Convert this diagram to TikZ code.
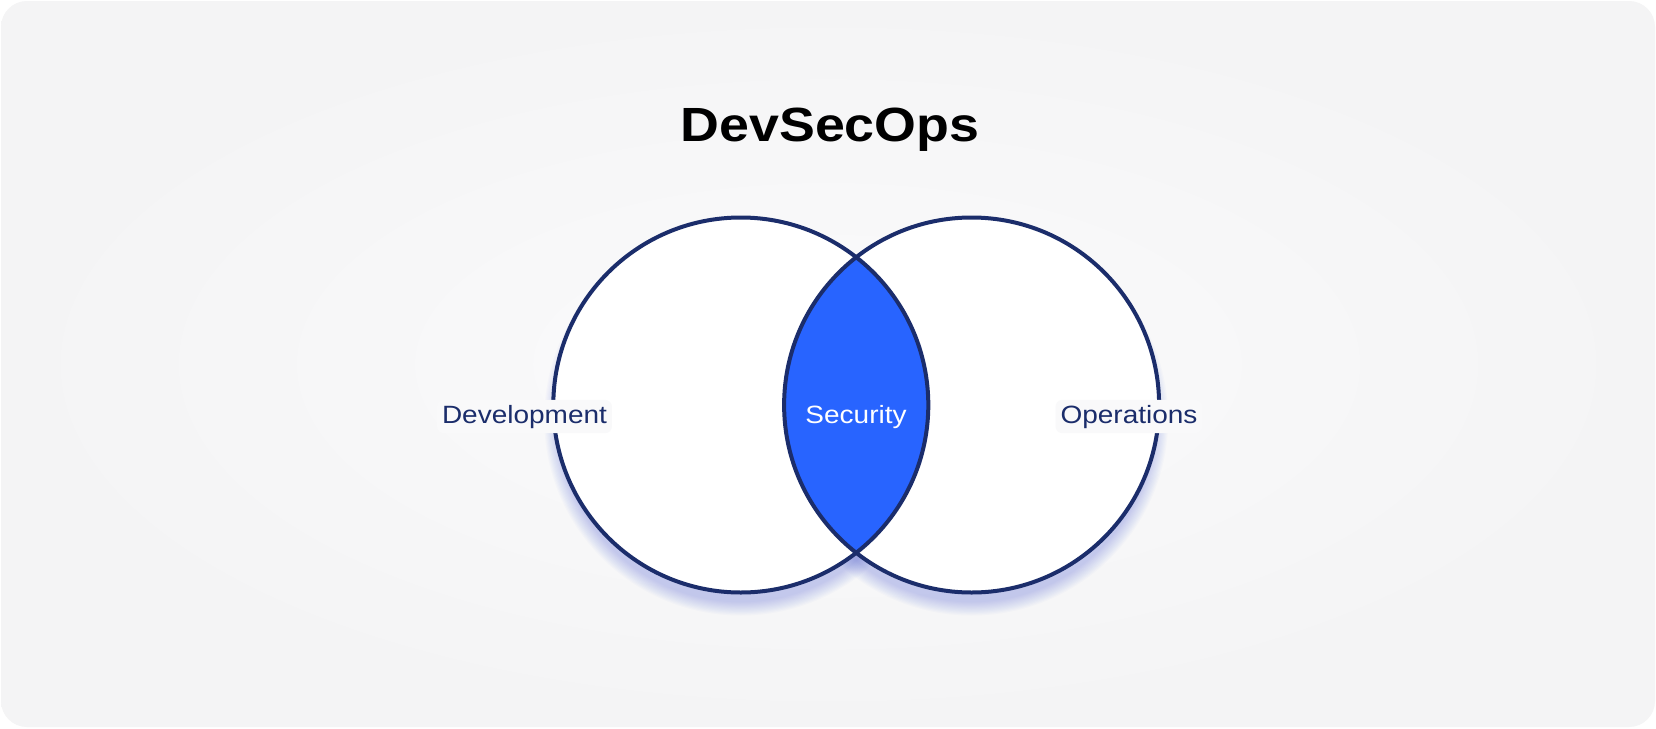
\documentclass[tikz,border=0pt]{standalone}
\usepackage{fontspec}
\setmainfont{Liberation Sans}
\newfontfamily\labelfont[FakeStretch=1.12]{Liberation Sans}
\newfontfamily\titlefont[FakeStretch=1.12]{Liberation Sans}
\definecolor{navy}{HTML}{1B2D6B}
\definecolor{lensblue}{HTML}{2864FF}
\definecolor{bgouter}{HTML}{F4F4F5}
\definecolor{bginner}{HTML}{FBFBFC}
\definecolor{glowblue}{HTML}{3A4ED0}
\definecolor{lblbg}{HTML}{F9F9FA}
\tikzset{
  ring/.style={circle, minimum size=375pt, inner sep=0pt, outer sep=0pt},
  ringline/.style={draw=navy, line width=4pt},
  lbl/.style={font=\labelfont\fontsize{25}{30}\selectfont, text=navy, fill=lblbg, rounded corners=7pt, inner sep=5pt, anchor=base},
  seclbl/.style={font=\labelfont\fontsize{25}{30}\selectfont, text=white, anchor=base},
  titlestyle/.style={font=\titlefont\bfseries\fontsize{48}{58}\selectfont, text=black, anchor=base}
}
\begin{document}
\begin{tikzpicture}[x=1pt,y=-1pt]
\useasboundingbox (0,0) rectangle (1656,728);
\fill[white] (0,0) rectangle (1656,728);
\shade[rounded corners=26pt, inner color=bginner, outer color=bgouter] (1,1) rectangle (1655,727);

% glow below circles
\foreach \i in {0,...,11} {
  \fill[glowblue, opacity=0.025] (740.8,419) circle ({187.5+9-1.2*\i});
  \fill[glowblue, opacity=0.025] (971.6,419) circle ({187.5+9-1.2*\i});
}

\node[ring, fill=white] (dev) at (740.8,405) {};
\node[ring, fill=white] (ops) at (971.6,405) {};
\begin{scope}
  \clip (dev.center) circle (187.5);
  \fill[lensblue] (ops.center) circle (187.5);
\end{scope}
\draw[ringline] (dev.center) circle (187.5);
\draw[ringline] (ops.center) circle (187.5);

\node[titlestyle] (title) at (830,141) {DevSecOps};
\node[lbl] (devlbl) at (524.5,423) {Development};
\node[seclbl] (seclbl) at (856,423) {Security};
\node[lbl] (opslbl) at (1129,423) {Operations};
\end{tikzpicture}
\end{document}
